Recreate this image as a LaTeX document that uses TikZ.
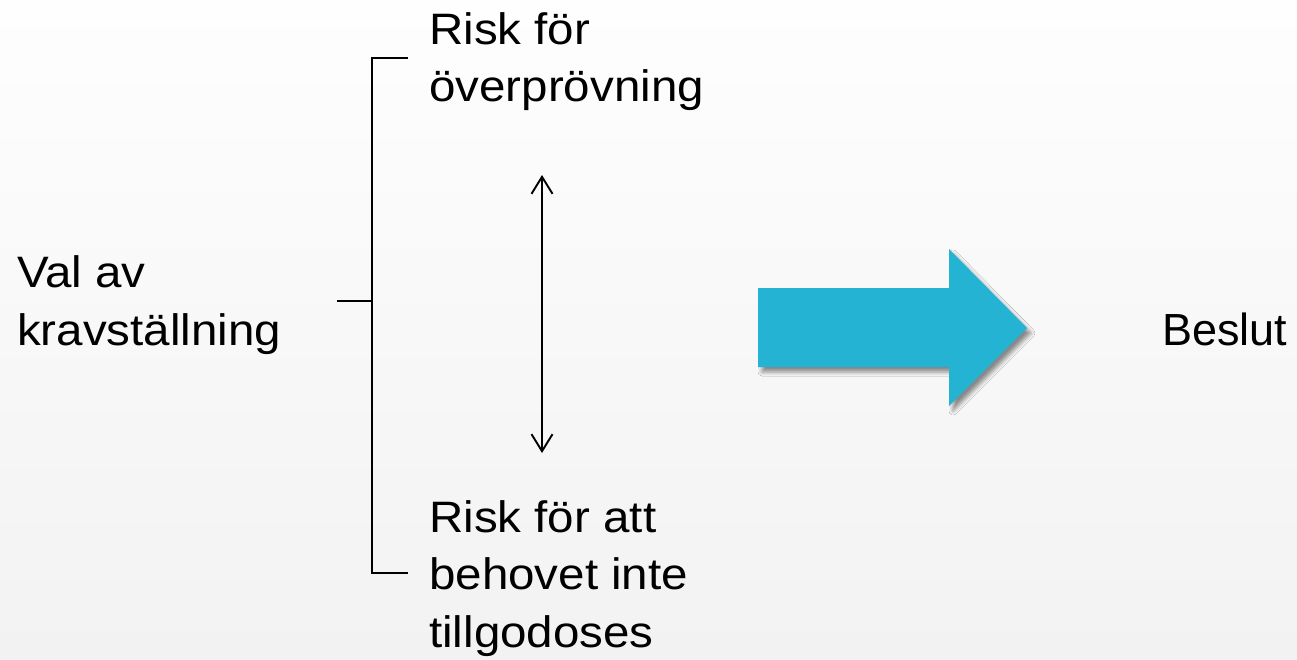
\documentclass[tikz,border=0pt]{standalone}
\usepackage{fontspec}
\setmainfont{Liberation Sans}
\newfontfamily\lblfont[FakeStretch=1.08]{Liberation Sans}
\usetikzlibrary{arrows.meta,shadows.blur}
\definecolor{bgtop}{HTML}{FEFEFE}
\definecolor{bgbot}{HTML}{F3F2F2}
\definecolor{arrowcyan}{HTML}{24B3D3}
\begin{document}
\begin{tikzpicture}[x=1pt,y=-1pt,
  lbl/.style={anchor=base west, inner sep=0pt, align=left, font=\lblfont\fontsize{44}{57.5}\selectfont},
  plainlbl/.style={anchor=base west, inner sep=0pt, font=\fontsize{45}{57.5}\selectfont},
  bracket/.style={line width=2.2pt, draw=black},
  dbl/.style={line width=1.9pt, {Straight Barb[length=17pt,width=21pt]}-{Straight Barb[length=17pt,width=21pt]}},
  bigarrow/.style={fill=arrowcyan, blur shadow={shadow xshift=4pt, shadow yshift=-5pt, shadow blur radius=4pt, shadow opacity=45}}]
\shade[top color=bgtop, bottom color=bgbot] (0,0) rectangle (1297,660);
\useasboundingbox (0,0) rectangle (1297,660);
% base anchor = baseline of the last line
\node[lbl] (val) at (17,345) {Val av\\kravställning};
\node[lbl] (top) at (429,102) {Risk för\\överprövning};
\node[lbl] (bot) at (429,647) {Risk för att\\behovet inte\\tillgodoses};
\node[plainlbl] (beslut) at (1162,345) {Beslut};
\coordinate (bt) at (408,58);
\coordinate (bb) at (408,573);
\coordinate (stub) at (337,301);
\draw[bracket] (bt) -- ++(-36,0) coordinate (bx) -- (bx |- bb) -- (bb);
\draw[bracket] (stub) -- (stub -| bx);
\coordinate (up) at (542,175);
\coordinate (dn) at (542,453);
\draw[dbl] (up) -- (dn);
\path[bigarrow] (758,288) -- (949,288) -- (949,249) -- (1027,328) -- (949,406) -- (949,367) -- (758,367) -- cycle;
\end{tikzpicture}
\end{document}
